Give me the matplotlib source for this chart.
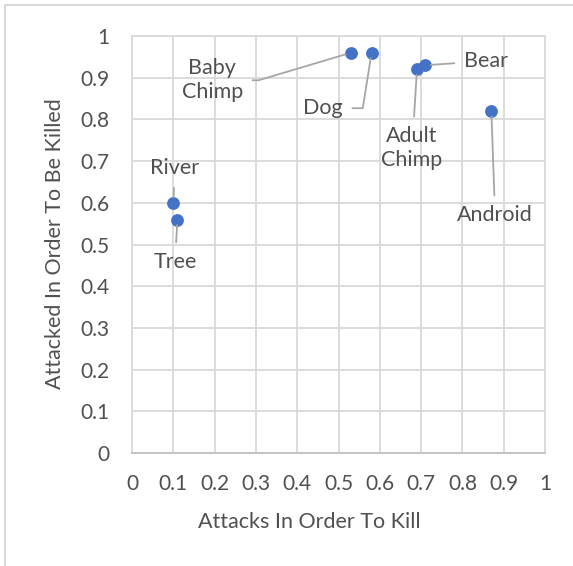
import matplotlib
matplotlib.use("Agg")
import matplotlib.pyplot as plt
from matplotlib.patches import Rectangle

plt.rcParams['font.family'] = ['Lato', 'DejaVu Sans']

# attacker / victim ratios for each creature
names = ['River', 'Tree', 'Baby\nChimp', 'Dog', 'Adult\nChimp', 'Bear', 'Android']
attacks_to_kill = [0.10, 0.11, 0.53, 0.58, 0.69, 0.71, 0.87]
attacked_to_be_killed = [0.60, 0.56, 0.96, 0.96, 0.92, 0.93, 0.82]

# where each label sits, plus how its leader line bends
label_pos = [(0.104, 0.683), (0.104, 0.458), (0.194, 0.894), (0.462, 0.827),
             (0.678, 0.731), (0.857, 0.940), (0.879, 0.571)]
leader_style = ['arc3', 'arc3', 'angle,angleA=0,angleB=16.6,rad=0',
                'angle,angleA=0,angleB=81,rad=0', 'arc3', 'arc3', 'arc3']

ticks = [0, 0.1, 0.2, 0.3, 0.4, 0.5, 0.6, 0.7, 0.8, 0.9, 1]
tick_labels = ['0', '0.1', '0.2', '0.3', '0.4', '0.5', '0.6', '0.7', '0.8', '0.9', '1']

text_col = '#505050'
grid_col = '#d9d9d9'

fig = plt.figure(figsize=(5.73, 5.66), dpi=100)
ax = fig.add_axes([0.2304, 0.1996, 0.7208, 0.7367])

# chart area border (left and top edge only visible)
fig.patches.append(Rectangle((5 / 573, -0.1), 1.2, 1 - 5 / 566 + 0.1,
                             transform=fig.transFigure, fill=False,
                             edgecolor=grid_col, linewidth=1.5))

ax.scatter(attacks_to_kill, attacked_to_be_killed, s=85, color='#4472C4',
           zorder=3, linewidths=0)

for name, x, y, pos, style in zip(names, attacks_to_kill, attacked_to_be_killed,
                                  label_pos, leader_style):
    ax.annotate(name, xy=(x, y), xytext=pos, textcoords='data',
                ha='center', va='center', fontsize=15.5, color=text_col,
                linespacing=1.25,
                arrowprops=dict(arrowstyle='-', color='#a6a6a6', lw=1.3,
                                shrinkA=5, shrinkB=4, connectionstyle=style),
                zorder=4)

ax.set_xlim(0, 1)
ax.set_ylim(0, 1)
ax.set_xticks(ticks)
ax.set_xticklabels(tick_labels)
ax.set_yticks(ticks)
ax.set_yticklabels(tick_labels)
ax.tick_params(length=0, labelsize=15, labelcolor=text_col)
ax.tick_params(axis='x', pad=15)
ax.tick_params(axis='y', pad=16)

ax.grid(True, color=grid_col, linewidth=1.3)
ax.set_axisbelow(True)
for side in ['left', 'top', 'right']:
    ax.spines[side].set_color(grid_col)
    ax.spines[side].set_linewidth(1.3)
ax.spines['bottom'].set_color('#bfbfbf')
ax.spines['bottom'].set_linewidth(1.3)

fig.text(309 / 573, 1 - 522 / 566, 'Attacks In Order To Kill', ha='center',
         va='center', fontsize=15.5, color=text_col)
fig.text(55 / 573, 1 - 244 / 566, 'Attacked In Order To Be Killed', ha='center',
         va='center', rotation=90, fontsize=15.5, color=text_col)

fig.savefig('out.png', dpi=100)
